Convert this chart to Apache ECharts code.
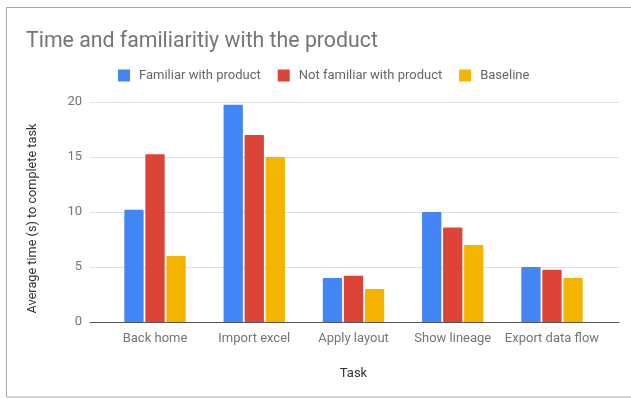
<!DOCTYPE html>
<html>
<head>
<meta charset="utf-8">
<script src="https://cdn.jsdelivr.net/npm/echarts@6/dist/echarts.min.js"></script>
<style>
  html, body { margin: 0; padding: 0; background: #fff; }
  #chart { width: 631px; height: 399px; }
</style>
</head>
<body>
<div id="chart"></div>
<script>
var tasks = ['Back home', 'Import excel', 'Apply layout', 'Show lineage', 'Export data flow'];
var familiar = [10.2, 19.75, 4.0, 10.0, 5.0];
var notFamiliar = [15.25, 17.0, 4.2, 8.6, 4.75];
var baseline = [6.0, 15.0, 3.0, 7.0, 4.0];
var yTicks = [0, 5, 10, 15, 20];

var chart = echarts.init(document.getElementById('chart'));
var font = 'Roboto, sans-serif';
var yMin = yTicks[0], yMax = yTicks[yTicks.length - 1];

function bar(name, data, color) {
    return {
        name: name,
        type: 'bar',
        xAxisIndex: 1,
        yAxisIndex: 1,
        data: data,
        barWidth: 19.3,
        barGap: '9%',
        itemStyle: { color: color, borderRadius: [1, 1, 0, 0] }
    };
}

chart.setOption({
    animation: false,
    graphic: [{
        type: 'rect',
        shape: { x: 6.5, y: 7.5, width: 640, height: 389.5 },
        style: { fill: 'none', stroke: '#a8a8a8', lineWidth: 1 },
        silent: true
    }],
    title: {
        text: 'Time and familiaritiy with the product',
        left: 21,
        top: 26,
        textStyle: { fontFamily: font, fontSize: 21.3, fontWeight: 'normal', color: '#757575' }
    },
    legend: {
        top: 64,
        left: 113,
        itemWidth: 12,
        itemHeight: 12,
        itemGap: 17,
        icon: 'rect',
        textStyle: { fontFamily: font, fontSize: 13, color: '#666666', padding: [0, 0, 0, 4] },
        data: ['Familiar with product', 'Not familiar with product', 'Baseline']
    },
    grid: [
        { left: 90, right: 12, top: 102, bottom: 77 },
        { left: 105.4, right: 29.4, top: 102, bottom: 77 }
    ],
    xAxis: [{
        gridIndex: 0,
        type: 'category',
        data: [''],
        axisTick: { show: false },
        axisLabel: { show: false },
        axisLine: { lineStyle: { color: '#555555', width: 1 } }
    }, {
        gridIndex: 1,
        type: 'category',
        data: tasks,
        name: 'Task',
        nameLocation: 'middle',
        nameGap: 45,
        nameTextStyle: { fontFamily: font, fontSize: 13, color: '#333333' },
        axisTick: { show: false },
        axisLine: { show: false },
        axisLabel: { fontFamily: font, fontSize: 13, color: '#757575', margin: 10, interval: 0 }
    }],
    yAxis: [{
        gridIndex: 0,
        type: 'value',
        min: yMin,
        max: yMax,
        interval: 5,
        name: 'Average time (s) to complete task',
        nameLocation: 'middle',
        nameGap: 51,
        nameTextStyle: { fontFamily: font, fontSize: 12.7, color: '#333333', padding: [0, 13, 0, 0] },
        axisLine: { show: false },
        axisTick: { show: false },
        splitLine: { lineStyle: { color: '#e0e0e0' } },
        axisLabel: { fontFamily: font, fontSize: 13, color: '#757575', margin: 8 }
    }, {
        gridIndex: 1,
        type: 'value',
        min: yMin,
        max: yMax,
        interval: 5,
        show: false
    }],
    series: [
        bar('Familiar with product', familiar, '#4285f4'),
        bar('Not familiar with product', notFamiliar, '#db4437'),
        bar('Baseline', baseline, '#f4b400')
    ]
});
</script>
</body>
</html>
